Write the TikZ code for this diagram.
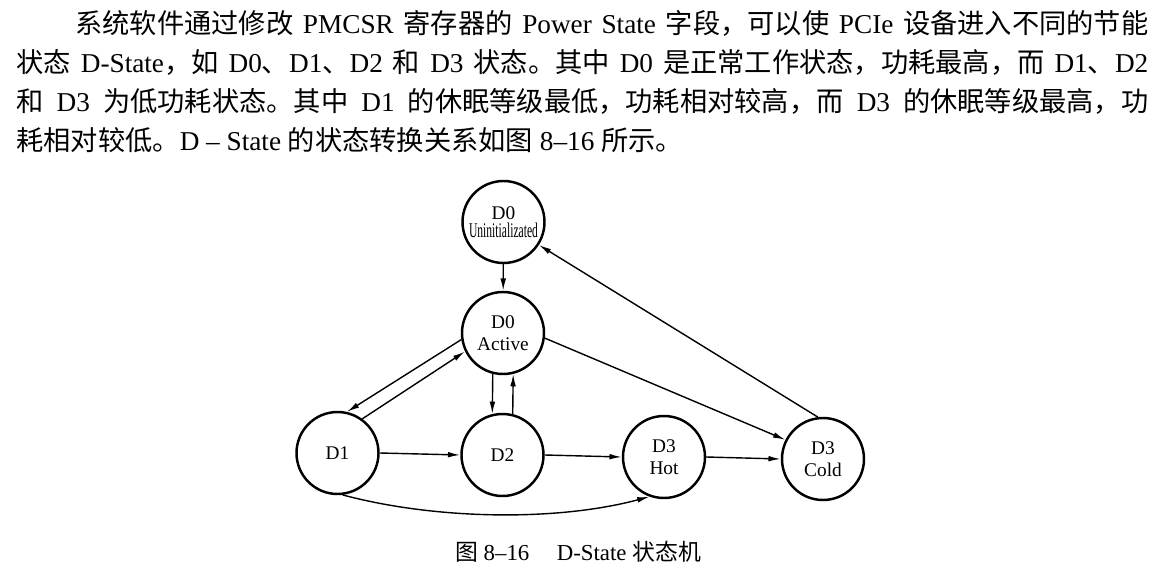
\documentclass[tikz,border=0pt]{standalone}
\usepackage{fontspec}
\setmainfont{Liberation Serif}
\newfontfamily\cjk{Noto Sans CJK SC}
\usetikzlibrary{arrows.meta}
\XeTeXlinebreaklocale "zh"
\XeTeXlinebreakskip=0pt plus 2pt

\begin{document}
\begin{tikzpicture}[scale=0.2]
\tikzstyle{every node}+=[inner sep=0pt]
\tikzstyle{dstate}=[circle, draw, line width=1.4pt, minimum size=1.64cm, align=center, font=\fontsize{11}{12.5}\selectfont]
\tikzstyle{trans}=[-{Latex[length=7pt,width=3.2pt]}, line width=0.8pt]
\tikzstyle{textline}=[anchor=base west, font=\fontsize{15.5}{22}\selectfont]
\useasboundingbox[fill=white] (0,0) rectangle (116.4,-57.5);
% paragraph above the figure
\node [textline] (line1) at (7.5,-3.35) {\makebox[21.46cm][s]{{\cjk 系统软件通过修改} PMCSR {\cjk 寄存器的} Power State {\cjk 字段，可以使} PCIe {\cjk 设备进入不同的节能}}};
\node [textline] (line2) at (1.6,-7.25) {\makebox[22.64cm][s]{{\cjk 状态} D-State{\cjk ，如} D0{\cjk 、}D1{\cjk 、}D2 {\cjk 和} D3 {\cjk 状态。其中} D0 {\cjk 是正常工作状态，功耗最高，而} D1{\cjk 、}D2}};
\node [textline] (line3) at (1.6,-11.15) {\makebox[22.64cm][s]{{\cjk 和} D3 {\cjk 为低功耗状态。其中} D1 {\cjk 的休眠等级最低，功耗相对较高，而} D3 {\cjk 的休眠等级最高，功}}};
\node [textline] (line4) at (1.6,-15.05) {{\cjk 耗相对较低。}D -- State {\cjk 的状态转换关系如图} 8--16 {\cjk 所示。}};
% states
\node [dstate] (U) at (50.35,-22.2) {D0\\[-2pt]\scalebox{0.6}[1.08]{Uninitializated}};
\node [dstate] (A) at (50.3,-33.3) {D0\\Active};
\node [dstate] (D1) at (33.75,-45.3) {D1};
\node [dstate] (D2) at (50.25,-45.5) {D2};
\node [dstate] (Hot) at (66.4,-45.7) {D3\\Hot};
\node [dstate] (Cold) at (82.3,-45.9) {D3\\Cold};
% transitions
\draw [trans] (U) -- (A);
\draw [trans] (A.189) -- (D1.77);
\draw [trans] (D1.54) -- (A.206);
\draw [trans] (A.-104) -- (D2.104);
\draw [trans] (D2.76) -- (A.-76);
\draw [trans] (D1.east) -- (D2.west);
\draw [trans] (D2.east) -- (Hot.west);
\draw [trans] (Hot.east) -- (Cold.west);
\draw [trans] (D1.-83) to [out=-15, in=195, looseness=0.8] (Hot.-110);
\draw [trans] (A.-7) -- (Cold.153);
\draw [trans] (Cold.97) -- (U.-33);
% caption
\node [anchor=base, font=\fontsize{13}{15}\selectfont] (cap) at (57.8,-56.07) {{\cjk 图} 8--16\hspace{1.2em}D-State {\cjk 状态机}};
\end{tikzpicture}
\end{document}
